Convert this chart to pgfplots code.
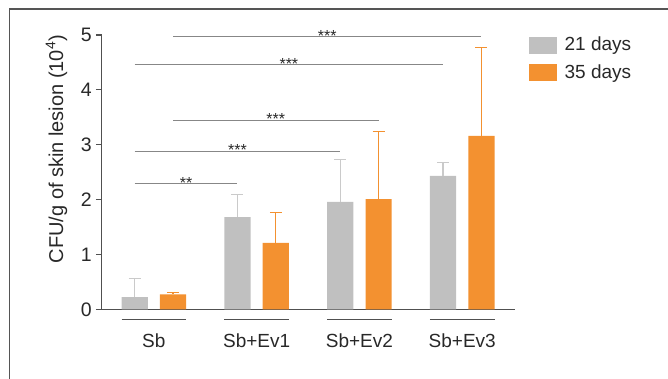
\documentclass[border=0pt]{standalone}
\usepackage{fontspec}
\setmainfont{Liberation Sans}
\usepackage{pgfplots}
\pgfplotsset{compat=1.18}
\definecolor{bargray}{RGB}{192,192,192}
\definecolor{errgray}{RGB}{202,202,202}
\definecolor{barorange}{RGB}{243,145,48}
\definecolor{axisgray}{RGB}{80,80,80}
\definecolor{siggray}{RGB}{135,135,135}
\definecolor{framegray}{RGB}{85,85,85}
\definecolor{txt}{RGB}{40,40,40}
\begin{document}
\begin{tikzpicture}[x=1pt,y=1pt]
\useasboundingbox (0,0) rectangle (668,379);
\draw[framegray, line width=1.6pt] (9.5,-5) -- (9.5,370) -- (675,370);
\begin{axis}[
  at={(101.5pt,69.7pt)}, anchor=south west,
  scale only axis, width=413.5pt, height=274.3pt,
  xmin=-0.509, xmax=3.513, ymin=0, ymax=5,
  axis lines*=left,
  axis line style={axisgray, line width=1.2pt},
  ytick={0,1,2,3,4,5},
  xtick={0,1,2,3},
  xticklabels={Sb,Sb+Ev1,Sb+Ev2,Sb+Ev3},
  tick align=outside,
  major tick length=5.5pt,
  ytick style={axisgray, line width=1.2pt},
  xtick style={draw=none},
  /pgf/number format/assume math mode=true,
  yticklabel style={font=\fontsize{19.5}{23}\selectfont, text=txt, anchor=east, inner sep=0pt, xshift=-4pt},
  xticklabel style={font=\fontsize{19}{23}\selectfont, text=txt, anchor=north, inner sep=0pt, yshift=-18.7pt},
  ylabel={CFU/g of skin lesion (10\textsuperscript{4})},
  ylabel style={font=\fontsize{20}{24}\selectfont, text=txt, at={(axis description cs:-0.0931,0.584)}, anchor=base},
  clip=false,
  ybar, bar width=0.255,
  legend style={at={(axis description cs:1.034,1.0)}, anchor=north west, draw=none, fill=none, inner sep=0pt, row sep=8pt, font=\fontsize{19}{23}\selectfont, text=txt, cells={anchor=west}},
]
\addplot[forget plot, fill=bargray, draw=none, bar shift=-0.1865,
  error bars/.cd, y dir=plus, y explicit,
  error bar style={errgray, line width=1.2pt},
  error mark options={errgray, rotate=90, line width=1.2pt, mark size=6pt}]
  coordinates {(0,0.22) +- (0,0.345) (1,1.68) +- (0,0.41) (2,1.96) +- (0,0.77) (3,2.43) +- (0,0.24)};
\addplot[forget plot, fill=barorange, draw=none, bar shift=0.1865,
  error bars/.cd, y dir=plus, y explicit,
  error bar style={barorange, line width=1.2pt},
  error mark options={barorange, rotate=90, line width=1.2pt, mark size=6pt}]
  coordinates {(0,0.27) +- (0,0.03) (1,1.21) +- (0,0.55) (2,2.01) +- (0,1.23) (3,3.16) +- (0,1.61)};
\addlegendimage{legend image code/.code={\fill[bargray] (0pt,-8pt) rectangle (27pt,8pt); \path (33pt,0pt);}}
\addlegendentry{21 days}
\addlegendimage{legend image code/.code={\fill[barorange] (0pt,-8pt) rectangle (27pt,8pt); \path (33pt,0pt);}}
\addlegendentry{35 days}
% significance brackets
\foreach \xa/\xb/\yy/\st in {-0.1865/0.8135/2.29/{**}, -0.1865/1.8135/2.885/{***}, 0.1865/2.1865/3.45/{***}, -0.1865/2.8135/4.46/{***}, 0.1865/3.1865/4.969/{***}}{
  \edef\temp{\noexpand\draw[siggray, line width=1pt] (axis cs:\xa,\yy) -- (axis cs:\xb,\yy) node[midway, anchor=base, yshift=-4.5pt, text=txt, font=\noexpand\fontsize{16}{18}\noexpand\selectfont, inner sep=0pt] {\st};}
  \temp
}
% category underlines
\foreach \g in {0,1,2,3}{
  \edef\temp{\noexpand\draw[axisgray, line width=1pt] (axis cs:\g-0.314,-0.195) -- (axis cs:\g+0.314,-0.195);}
  \temp
}
\end{axis}
\end{tikzpicture}
\end{document}
